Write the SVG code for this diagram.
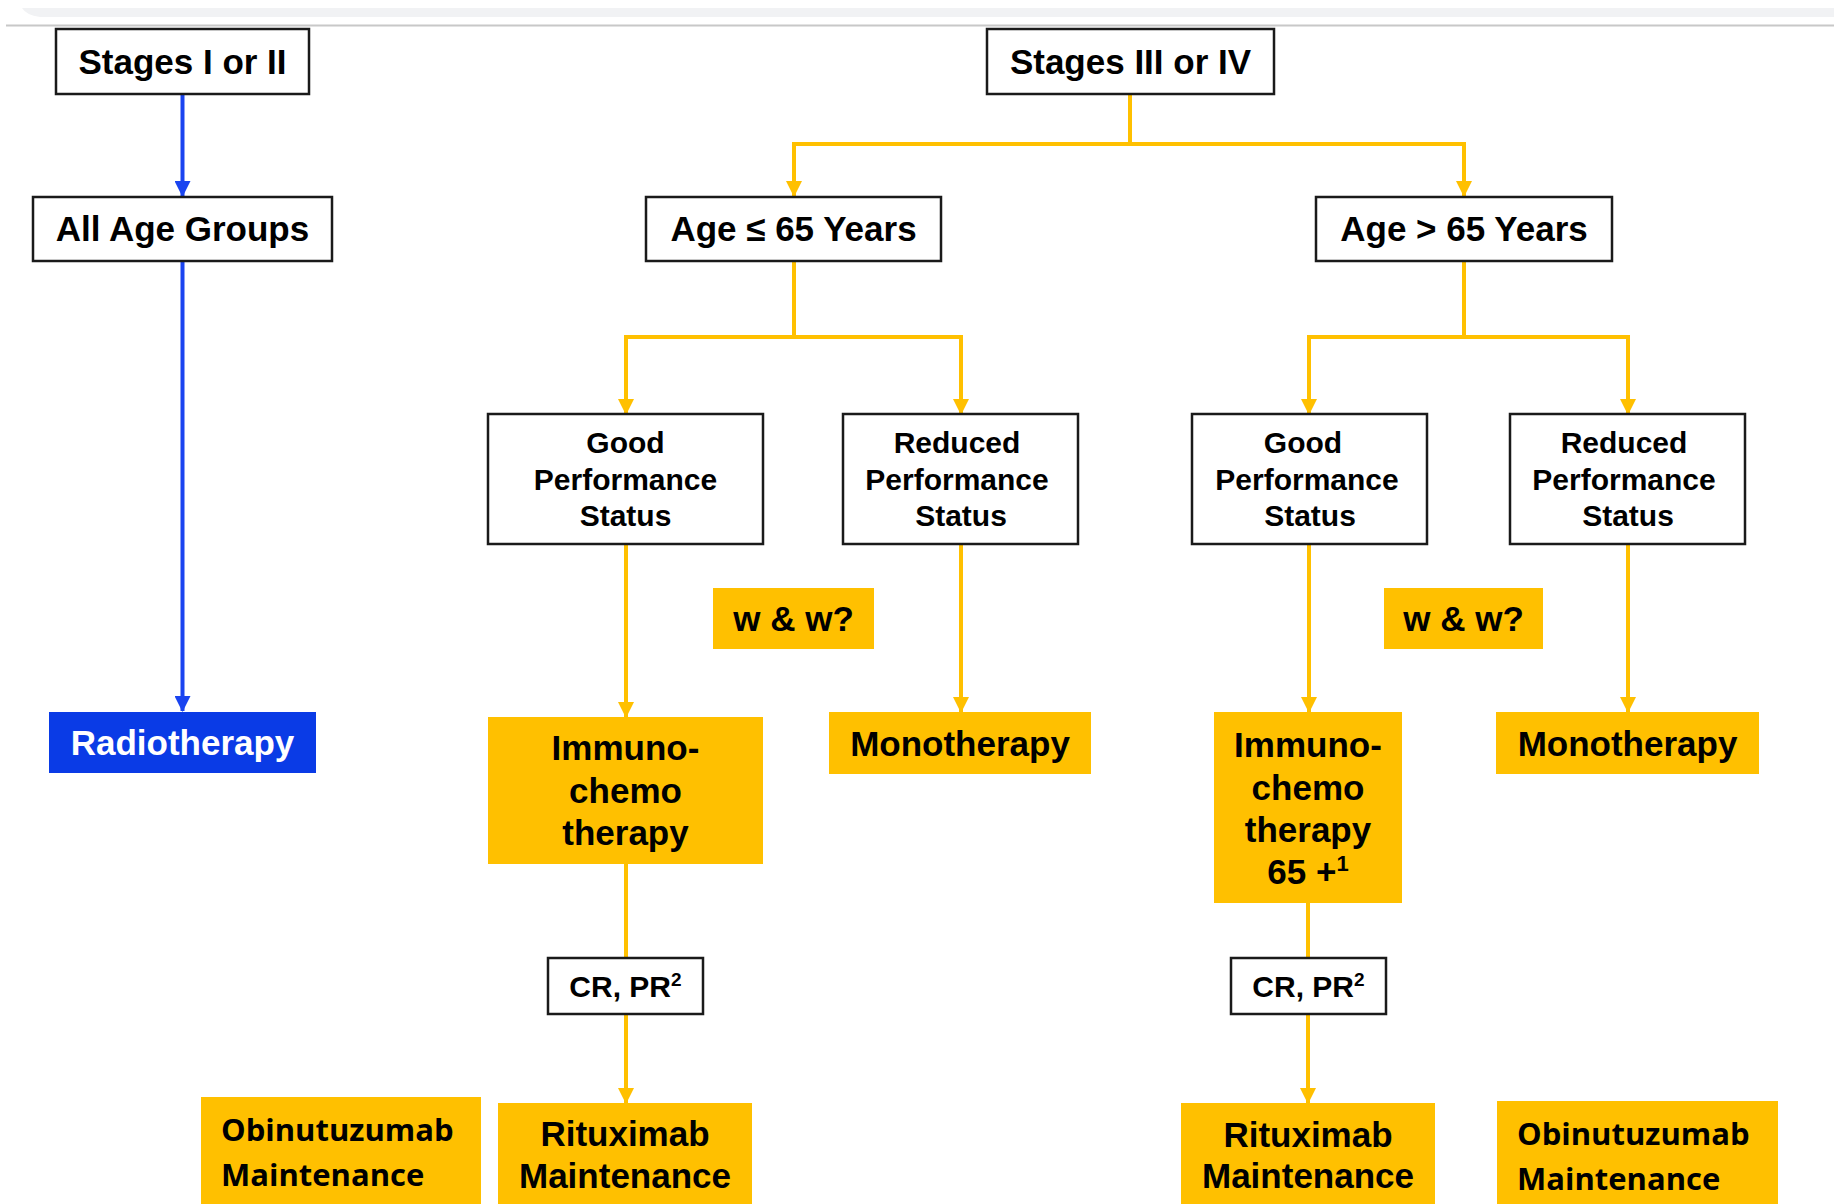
<svg xmlns="http://www.w3.org/2000/svg" width="1834" height="1204" viewBox="0 0 1834 1204">
<defs>
<style>
.box{fill:#ffffff;stroke:#1a1a1a;stroke-width:2.5}
.yb{fill:#FFC000;stroke:none}
.bb{fill:#0A3BE6;stroke:none}
.t{font-family:"Liberation Sans",Arial,sans-serif;font-weight:bold;fill:#000;text-anchor:middle}
.t35{font-size:35px}
.t30{font-size:30px}
.w{fill:#ffffff}
.ob{font-family:"Open Sans","Liberation Sans",sans-serif;font-weight:bold;font-size:31px;fill:#000}
.cy{fill:none;stroke:#FFC000;stroke-width:4}
.cb{fill:none;stroke:#1A44F0;stroke-width:4}
</style>
<marker id="ay" markerUnits="userSpaceOnUse" markerWidth="16" markerHeight="16" viewBox="0 0 16 16" refX="15" refY="8" orient="auto">
<path d="M0,0 L16,8 L0,16 Z" fill="#FFC000"/>
</marker>
<marker id="ab" markerUnits="userSpaceOnUse" markerWidth="16" markerHeight="16" viewBox="0 0 16 16" refX="15" refY="8" orient="auto">
<path d="M0,0 L16,8 L0,16 Z" fill="#1A44F0"/>
</marker>
</defs>
<rect width="1834" height="1204" fill="#ffffff"/>
<path d="M22,8 H1834 V17 H40 Q26,15 22,8 Z" fill="#F1F2F4"/>
<line x1="6" y1="25.5" x2="1834" y2="25.5" stroke="#C8C8C8" stroke-width="2"/>

<g id="connectors">
<path class="cb" d="M182.5,94 V196" marker-end="url(#ab)"/>
<path class="cb" d="M182.5,261 V711" marker-end="url(#ab)"/>
<path class="cy" d="M1130,94 V144 H794 V196" marker-end="url(#ay)"/>
<path class="cy" d="M1130,144 H1464 V196" marker-end="url(#ay)"/>
<path class="cy" d="M794,261 V337 H626 V414" marker-end="url(#ay)"/>
<path class="cy" d="M794,337 H961 V414" marker-end="url(#ay)"/>
<path class="cy" d="M1464,261 V337 H1309 V414" marker-end="url(#ay)"/>
<path class="cy" d="M1464,337 H1628 V414" marker-end="url(#ay)"/>
<path class="cy" d="M626,544 V717" marker-end="url(#ay)"/>
<path class="cy" d="M961,544 V712" marker-end="url(#ay)"/>
<path class="cy" d="M1309,544 V712" marker-end="url(#ay)"/>
<path class="cy" d="M1628,544 V712" marker-end="url(#ay)"/>
<path class="cy" d="M626,864 V958"/>
<path class="cy" d="M626,1014 V1103" marker-end="url(#ay)"/>
<path class="cy" d="M1308,903 V958"/>
<path class="cy" d="M1308,1014 V1103" marker-end="url(#ay)"/>
</g>

<g id="stages12">
<rect class="box" x="56" y="29" width="253" height="65"/>
<text class="t t35" x="182.5" y="74">Stages I or II</text>
</g>
<g id="allage">
<rect class="box" x="33" y="197" width="299" height="64"/>
<text class="t t35" x="182.5" y="241">All Age Groups</text>
</g>
<g id="radiotherapy">
<rect class="bb" x="49" y="712" width="267" height="61"/>
<text class="t t35 w" x="182.5" y="755">Radiotherapy</text>
</g>

<g id="stages34">
<rect class="box" x="987" y="29" width="287" height="65"/>
<text class="t t35" x="1130.5" y="74">Stages III or IV</text>
</g>
<g id="age-le65">
<rect class="box" x="646" y="197" width="295" height="64"/>
<text class="t t35" x="793.5" y="241">Age ≤ 65 Years</text>
</g>
<g id="age-gt65">
<rect class="box" x="1316" y="197" width="296" height="64"/>
<text class="t t35" x="1464" y="241">Age &gt; 65 Years</text>
</g>

<g id="good-left">
<rect class="box" x="488" y="414" width="275" height="130"/>
<text class="t t30" x="625.5" y="453">Good</text>
<text class="t t30" x="625.5" y="490">Performance</text>
<text class="t t30" x="625.5" y="526">Status</text>
</g>
<g id="reduced-left">
<rect class="box" x="843" y="414" width="235" height="130"/>
<text class="t t30" x="957" y="453">Reduced</text>
<text class="t t30" x="957" y="490">Performance</text>
<text class="t t30" x="961" y="526">Status</text>
</g>
<g id="ww-left">
<rect class="yb" x="713" y="588" width="161" height="61"/>
<text class="t t35" x="793.5" y="631">w &amp; w?</text>
</g>
<g id="immuno-left">
<rect class="yb" x="488" y="717" width="275" height="147"/>
<text class="t t35" x="625.5" y="760">Immuno-</text>
<text class="t t35" x="625.5" y="803">chemo</text>
<text class="t t35" x="625.5" y="845">therapy</text>
</g>
<g id="mono-left">
<rect class="yb" x="829" y="712" width="262" height="62"/>
<text class="t t35" x="960" y="756">Monotherapy</text>
</g>
<g id="crpr-left">
<rect class="box" x="548" y="958" width="155" height="56"/>
<text class="t t30" x="625.5" y="997">CR, PR<tspan font-size="19" dy="-11">2</tspan></text>
</g>
<g id="ritux-left">
<rect class="yb" x="498" y="1103" width="254" height="101"/>
<text class="t t35" x="625" y="1146">Rituximab</text>
<text class="t t35" x="625" y="1188">Maintenance</text>
</g>
<g id="obinu-left">
<rect class="yb" x="201" y="1097" width="280" height="107"/>
<text class="ob" x="221" y="1141">Obinutuzumab</text>
<text class="ob" x="221" y="1186">Maintenance</text>
</g>

<g id="good-right">
<rect class="box" x="1192" y="414" width="235" height="130"/>
<text class="t t30" x="1303" y="453">Good</text>
<text class="t t30" x="1307" y="490">Performance</text>
<text class="t t30" x="1310" y="526">Status</text>
</g>
<g id="reduced-right">
<rect class="box" x="1510" y="414" width="235" height="130"/>
<text class="t t30" x="1624" y="453">Reduced</text>
<text class="t t30" x="1624" y="490">Performance</text>
<text class="t t30" x="1628" y="526">Status</text>
</g>
<g id="ww-right">
<rect class="yb" x="1384" y="588" width="159" height="61"/>
<text class="t t35" x="1463.5" y="631">w &amp; w?</text>
</g>
<g id="immuno-right">
<rect class="yb" x="1214" y="712" width="188" height="191"/>
<text class="t t35" x="1308" y="757">Immuno-</text>
<text class="t t35" x="1308" y="800">chemo</text>
<text class="t t35" x="1308" y="842">therapy</text>
<text class="t t35" x="1308" y="884">65 +<tspan font-size="22" dy="-13">1</tspan></text>
</g>
<g id="mono-right">
<rect class="yb" x="1496" y="712" width="263" height="62"/>
<text class="t t35" x="1627.5" y="756">Monotherapy</text>
</g>
<g id="crpr-right">
<rect class="box" x="1231" y="958" width="155" height="56"/>
<text class="t t30" x="1308.5" y="997">CR, PR<tspan font-size="19" dy="-11">2</tspan></text>
</g>
<g id="ritux-right">
<rect class="yb" x="1181" y="1103" width="254" height="101"/>
<text class="t t35" x="1308" y="1147">Rituximab</text>
<text class="t t35" x="1308" y="1188">Maintenance</text>
</g>
<g id="obinu-right">
<rect class="yb" x="1497" y="1101" width="281" height="103"/>
<text class="ob" x="1517" y="1145">Obinutuzumab</text>
<text class="ob" x="1517" y="1190">Maintenance</text>
</g>
</svg>
